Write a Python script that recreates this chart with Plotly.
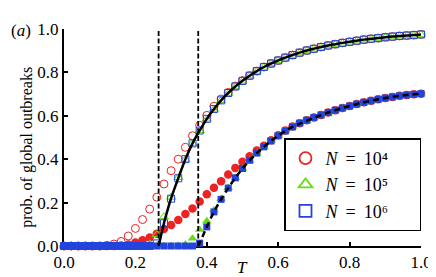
import plotly.graph_objects as go

# ---------------- data ----------------
T = [0.00, 0.02, 0.04, 0.06, 0.08, 0.10, 0.12, 0.14, 0.16, 0.18,
     0.20, 0.22, 0.24, 0.26, 0.28, 0.30, 0.32, 0.34, 0.36, 0.38,
     0.40, 0.42, 0.44, 0.46, 0.48, 0.50, 0.52, 0.54, 0.56, 0.58,
     0.60, 0.62, 0.64, 0.66, 0.68, 0.70, 0.72, 0.74, 0.76, 0.78,
     0.80, 0.82, 0.84, 0.86, 0.88, 0.90, 0.92, 0.94, 0.96, 0.98, 1.00]

# upper family (open markers)
up_N4 = [0, 0, 0, 0, 0, 0,
         0.003, 0.009, 0.021, 0.046, 0.081,
         0.122, 0.170, 0.225, 0.286, 0.347,
         0.400, 0.455, 0.508, 0.556, 0.602,
         0.644, 0.677, 0.708, 0.737, 0.762,
         0.785, 0.806, 0.825, 0.841, 0.855,
         0.868, 0.880, 0.891, 0.901, 0.909,
         0.917, 0.924, 0.930, 0.936, 0.941,
         0.946, 0.951, 0.955, 0.958, 0.962,
         0.965, 0.968, 0.970, 0.972, 0.975]
up_N5 = [0, 0, 0, 0, 0, 0, 0, 0, 0, 0, 0, 0,
         0.010, 0.053, 0.135, 0.225,
         0.315, 0.398, 0.472, 0.532, 0.585,
         0.630, 0.670, 0.704, 0.734, 0.760,
         0.784, 0.805, 0.824, 0.840, 0.854,
         0.867, 0.879, 0.890, 0.900, 0.908,
         0.916, 0.923, 0.929, 0.935, 0.940,
         0.945, 0.950, 0.954, 0.957, 0.961,
         0.964, 0.967, 0.969, 0.971, 0.974]
up_N6 = [0, 0, 0, 0, 0, 0, 0, 0, 0, 0, 0, 0, 0,
         0.012, 0.105, 0.218,
         0.312, 0.400, 0.473, 0.532, 0.586,
         0.631, 0.671, 0.705, 0.735, 0.761,
         0.785, 0.806, 0.825, 0.841, 0.855,
         0.868, 0.880, 0.891, 0.901, 0.909,
         0.917, 0.924, 0.930, 0.936, 0.941,
         0.946, 0.951, 0.955, 0.958, 0.962,
         0.965, 0.968, 0.970, 0.972, 0.975]

# lower family (filled markers)
lo_N4 = [0, 0, 0, 0, 0, 0, 0, 0,
         0.002, 0.007, 0.016,
         0.027, 0.039, 0.057, 0.078, 0.097,
         0.120, 0.147, 0.173, 0.205, 0.238,
         0.268, 0.298, 0.329, 0.360, 0.388,
         0.414, 0.440, 0.462, 0.487, 0.510,
         0.532, 0.551, 0.566, 0.580, 0.592,
         0.604, 0.615, 0.626, 0.636, 0.645,
         0.654, 0.662, 0.669, 0.676, 0.682,
         0.687, 0.692, 0.696, 0.699, 0.702]
lo_N5 = [0, 0, 0, 0, 0, 0, 0, 0, 0, 0, 0, 0, 0, 0, 0, 0,
         0.002, 0.008, 0.035, 0.075, 0.115,
         0.165, 0.218, 0.268, 0.315, 0.357,
         0.395, 0.428, 0.457, 0.484, 0.508,
         0.530, 0.549, 0.564, 0.578, 0.590,
         0.603, 0.614, 0.625, 0.635, 0.644,
         0.653, 0.661, 0.668, 0.675, 0.681,
         0.686, 0.691, 0.695, 0.698, 0.701]
lo_N6 = [0, 0, 0, 0, 0, 0, 0, 0, 0, 0, 0, 0, 0, 0, 0, 0, 0, 0, 0,
         0.013, 0.088,
         0.157, 0.215, 0.267, 0.314, 0.357,
         0.395, 0.428, 0.457, 0.484, 0.508,
         0.530, 0.549, 0.566, 0.580, 0.592,
         0.604, 0.615, 0.626, 0.636, 0.645,
         0.654, 0.662, 0.669, 0.676, 0.682,
         0.687, 0.692, 0.696, 0.699, 0.702]

# theory curves
T_up = [0.265, 0.27, 0.28, 0.29, 0.30, 0.32, 0.34, 0.36, 0.38, 0.40,
        0.42, 0.44, 0.46, 0.48, 0.50, 0.52, 0.54, 0.56, 0.58, 0.60,
        0.62, 0.64, 0.66, 0.68, 0.70, 0.72, 0.74, 0.76, 0.78, 0.80,
        0.82, 0.84, 0.86, 0.88, 0.90, 0.92, 0.94, 0.96, 0.98, 1.00]
P_up = [0, 0.035, 0.105, 0.165, 0.220, 0.312, 0.400, 0.473, 0.532, 0.586,
        0.631, 0.671, 0.705, 0.735, 0.761, 0.785, 0.806, 0.825, 0.841, 0.855,
        0.868, 0.880, 0.891, 0.901, 0.909, 0.917, 0.924, 0.930, 0.936, 0.941,
        0.946, 0.951, 0.955, 0.958, 0.962, 0.965, 0.968, 0.970, 0.972, 0.975]
T_lo = [0.376, 0.38, 0.40, 0.42, 0.44, 0.46, 0.48, 0.50, 0.52, 0.54,
        0.56, 0.58, 0.60, 0.62, 0.64, 0.66, 0.68, 0.70, 0.72, 0.74,
        0.76, 0.78, 0.80, 0.82, 0.84, 0.86, 0.88, 0.90, 0.92, 0.94,
        0.96, 0.98, 1.00]
P_lo = [0, 0.013, 0.088, 0.157, 0.215, 0.267, 0.314, 0.357, 0.395, 0.428,
        0.457, 0.484, 0.508, 0.530, 0.549, 0.563, 0.577, 0.590, 0.603, 0.615,
        0.626, 0.636, 0.645, 0.654, 0.662, 0.669, 0.676, 0.682, 0.687, 0.692,
        0.696, 0.699, 0.702]

thresholds = [0.265, 0.376]

x_ticks = [0.0, 0.2, 0.4, 0.6, 0.8, 1.0]
y_ticks = [0.0, 0.2, 0.4, 0.6, 0.8, 1.0]

legend_labels = ["<i>N</i>\u2009 = \u200910\u2074\u2003\u2009\u2009",
                 "<i>N</i>\u2009 = \u200910\u2075\u2003\u2009\u2009",
                 "<i>N</i>\u2009 = \u200910\u2076\u2003\u2009\u2009"]

# ---------------- style ----------------
RED = "#ee2222"
GREEN = "#66dd11"
BLUE = "#2244dd"
SERIF = "Liberation Serif"

fig = go.Figure()

def add_markers(y, symbol, color, size):
    filled = not symbol.endswith("open")
    fig.add_trace(go.Scatter(
        x=T, y=y, mode="markers", showlegend=False, cliponaxis=False,
        marker=dict(symbol=symbol, size=size, color=color,
                    line=dict(width=0 if filled else 1, color=color))))

add_markers(up_N4, "circle-open", RED, 8)
add_markers(lo_N4, "circle", RED, 8.5)
add_markers(up_N5, "triangle-up-open", GREEN, 8)
add_markers(lo_N5, "triangle-up", GREEN, 8.5)
add_markers(up_N6, "square-open", BLUE, 7)
add_markers(lo_N6, "square", BLUE, 7)

# theory curves
fig.add_trace(go.Scatter(x=T_up, y=P_up, mode="lines", showlegend=False,
                         line=dict(color="black", width=2.5, shape="spline")))
fig.add_trace(go.Scatter(x=T_lo, y=P_lo, mode="lines", showlegend=False,
                         line=dict(color="black", width=2.5, dash="6px,4px", shape="spline")))

# vertical threshold lines
for tc in thresholds:
    fig.add_trace(go.Scatter(x=[tc, tc], y=[0, 1.0], mode="lines", showlegend=False,
                             cliponaxis=False,
                             line=dict(color="black", width=1.8, dash="5px,2.5px")))

# legend entries
for lab, sym, col in zip(legend_labels,
                         ["circle-open", "triangle-up-open", "square-open"],
                         [RED, GREEN, BLUE]):
    fig.add_trace(go.Scatter(x=[None], y=[None], mode="markers", name=lab,
                             marker=dict(symbol=sym, size=12, color=col,
                                         line=dict(width=1.8, color=col))))

axis_common = dict(showline=True, linecolor="black", linewidth=2,
                   ticks="inside", ticklen=4, tickwidth=1.5, tickcolor="black",
                   showgrid=False, zeroline=False, mirror=False,
                   tickfont=dict(family=SERIF, size=17, color="black"),
                   tickformat=".1f", layer="below traces",
                   ticklabeloverflow="allow")

fig.update_layout(
    width=436, height=277,
    margin=dict(l=56, r=12, t=12, b=39),
    paper_bgcolor="white", plot_bgcolor="white",
    xaxis=dict(range=[0, 1], tickvals=x_ticks, **axis_common),
    yaxis=dict(range=[0, 1], tickvals=y_ticks, **axis_common),
    legend=dict(x=1.0, y=0.0675, xanchor="right", yanchor="bottom",
                bordercolor="black", borderwidth=1.5, bgcolor="white",
                font=dict(family=SERIF, size=18, color="black"),
                itemsizing="trace", tracegroupgap=0),
    font=dict(family=SERIF, color="black"),
    annotations=[
        dict(text="prob. of global outbreaks", textangle=-90, showarrow=False,
             xref="paper", yref="paper", x=-0.1045, y=0.456,
             xanchor="center", yanchor="middle",
             font=dict(family=SERIF, size=16, color="black")),
        dict(text="<i>T</i>", showarrow=False, xref="paper", yref="paper",
             x=0.5, y=-0.10, xanchor="center", yanchor="middle",
             font=dict(family=SERIF, size=17, color="black")),
        dict(text="(<i>a</i>)", showarrow=False, xref="paper", yref="paper",
             x=-0.121, y=0.992, xanchor="center", yanchor="middle",
             font=dict(family=SERIF, size=17, color="black")),
    ],
)

fig.write_html("out.html")
